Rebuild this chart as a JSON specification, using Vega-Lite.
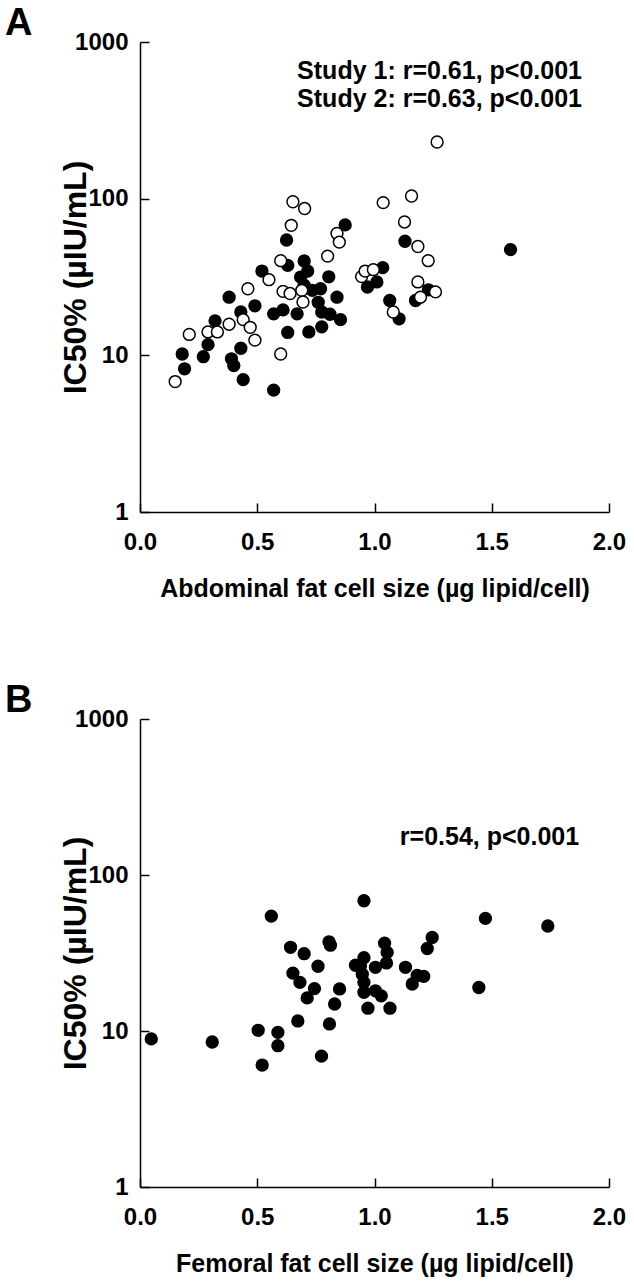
{
  "$schema": "https://vega.github.io/schema/vega-lite/v6.json",
  "padding": {"left": 5, "top": 5, "right": 5, "bottom": 5},
  "spacing": 81,
  "config": {
    "font": "Liberation Sans",
    "view": {"stroke": null},
    "axis": {
      "grid": false,
      "domainColor": "black",
      "domainWidth": 1.5,
      "tickColor": "black",
      "tickWidth": 1.5,
      "tickSize": -9,
      "labelPadding": 27,
      "labelFlush": false,
      "labelFont": "Liberation Sans",
      "labelFontSize": 24,
      "labelFontWeight": "bold",
      "labelColor": "black",
      "titleFont": "Liberation Sans",
      "titleFontSize": 25,
      "titleFontWeight": "bold",
      "titleColor": "black"
    },
    "title": {"font": "Liberation Sans", "fontSize": 38, "fontWeight": "bold", "color": "black", "anchor": "start", "frame": "group"}
  },
  "datasets": {
    "a": [
      {"x": 0.18, "y": 10.2, "study": "Study 1"},
      {"x": 0.19, "y": 8.2, "study": "Study 1"},
      {"x": 0.27, "y": 9.8, "study": "Study 1"},
      {"x": 0.29, "y": 11.7, "study": "Study 1"},
      {"x": 0.32, "y": 16.6, "study": "Study 1"},
      {"x": 0.38, "y": 23.5, "study": "Study 1"},
      {"x": 0.39, "y": 9.5, "study": "Study 1"},
      {"x": 0.40, "y": 8.6, "study": "Study 1"},
      {"x": 0.43, "y": 11.1, "study": "Study 1"},
      {"x": 0.44, "y": 7.0, "study": "Study 1"},
      {"x": 0.43, "y": 18.9, "study": "Study 1"},
      {"x": 0.49, "y": 20.7, "study": "Study 1"},
      {"x": 0.52, "y": 34.5, "study": "Study 1"},
      {"x": 0.57, "y": 6.0, "study": "Study 1"},
      {"x": 0.57, "y": 18.4, "study": "Study 1"},
      {"x": 0.61, "y": 19.5, "study": "Study 1"},
      {"x": 0.625, "y": 54.5, "study": "Study 1"},
      {"x": 0.63, "y": 37.5, "study": "Study 1"},
      {"x": 0.63, "y": 14.0, "study": "Study 1"},
      {"x": 0.67, "y": 18.4, "study": "Study 1"},
      {"x": 0.70, "y": 40, "study": "Study 1"},
      {"x": 0.685, "y": 31.6, "study": "Study 1"},
      {"x": 0.715, "y": 34.5, "study": "Study 1"},
      {"x": 0.70, "y": 28, "study": "Study 1"},
      {"x": 0.72, "y": 14.1, "study": "Study 1"},
      {"x": 0.735, "y": 26, "study": "Study 1"},
      {"x": 0.77, "y": 26.6, "study": "Study 1"},
      {"x": 0.76, "y": 21.8, "study": "Study 1"},
      {"x": 0.775, "y": 18.9, "study": "Study 1"},
      {"x": 0.775, "y": 15.2, "study": "Study 1"},
      {"x": 0.805, "y": 31.7, "study": "Study 1"},
      {"x": 0.81, "y": 18.3, "study": "Study 1"},
      {"x": 0.84, "y": 23.5, "study": "Study 1"},
      {"x": 0.855, "y": 16.9, "study": "Study 1"},
      {"x": 0.875, "y": 68, "study": "Study 1"},
      {"x": 0.97, "y": 27.3, "study": "Study 1"},
      {"x": 1.01, "y": 29.4, "study": "Study 1"},
      {"x": 1.035, "y": 36.3, "study": "Study 1"},
      {"x": 1.065, "y": 22.4, "study": "Study 1"},
      {"x": 1.105, "y": 17.1, "study": "Study 1"},
      {"x": 1.13, "y": 53.5, "study": "Study 1"},
      {"x": 1.175, "y": 22.4, "study": "Study 1"},
      {"x": 1.23, "y": 26.2, "study": "Study 1"},
      {"x": 1.58, "y": 47.3, "study": "Study 1"},
      {"x": 0.15, "y": 6.8, "study": "Study 2"},
      {"x": 0.21, "y": 13.6, "study": "Study 2"},
      {"x": 0.29, "y": 14.1, "study": "Study 2"},
      {"x": 0.33, "y": 14.1, "study": "Study 2"},
      {"x": 0.38, "y": 15.8, "study": "Study 2"},
      {"x": 0.44, "y": 16.9, "study": "Study 2"},
      {"x": 0.47, "y": 15.1, "study": "Study 2"},
      {"x": 0.49, "y": 12.5, "study": "Study 2"},
      {"x": 0.46, "y": 26.6, "study": "Study 2"},
      {"x": 0.55, "y": 30.4, "study": "Study 2"},
      {"x": 0.60, "y": 40.2, "study": "Study 2"},
      {"x": 0.60, "y": 10.2, "study": "Study 2"},
      {"x": 0.61, "y": 25.6, "study": "Study 2"},
      {"x": 0.64, "y": 24.8, "study": "Study 2"},
      {"x": 0.645, "y": 67.6, "study": "Study 2"},
      {"x": 0.652, "y": 95.6, "study": "Study 2"},
      {"x": 0.702, "y": 86.5, "study": "Study 2"},
      {"x": 0.69, "y": 26, "study": "Study 2"},
      {"x": 0.695, "y": 21.9, "study": "Study 2"},
      {"x": 0.80, "y": 43, "study": "Study 2"},
      {"x": 0.84, "y": 60, "study": "Study 2"},
      {"x": 0.85, "y": 52.8, "study": "Study 2"},
      {"x": 0.945, "y": 31.8, "study": "Study 2"},
      {"x": 0.96, "y": 34.5, "study": "Study 2"},
      {"x": 0.995, "y": 35.2, "study": "Study 2"},
      {"x": 1.037, "y": 94.3, "study": "Study 2"},
      {"x": 1.08, "y": 18.9, "study": "Study 2"},
      {"x": 1.128, "y": 71, "study": "Study 2"},
      {"x": 1.158, "y": 104, "study": "Study 2"},
      {"x": 1.185, "y": 49.5, "study": "Study 2"},
      {"x": 1.185, "y": 29.4, "study": "Study 2"},
      {"x": 1.196, "y": 23.5, "study": "Study 2"},
      {"x": 1.229, "y": 40.2, "study": "Study 2"},
      {"x": 1.26, "y": 25.4, "study": "Study 2"},
      {"x": 1.267, "y": 230, "study": "Study 2"}
    ],
    "b": [
      {"x": 0.048, "y": 8.9}, {"x": 0.308, "y": 8.5}, {"x": 0.504, "y": 10.1},
      {"x": 0.521, "y": 6.05}, {"x": 0.56, "y": 54.5}, {"x": 0.588, "y": 9.8},
      {"x": 0.588, "y": 8.05}, {"x": 0.642, "y": 34.4}, {"x": 0.70, "y": 31.3},
      {"x": 0.759, "y": 26.0}, {"x": 0.806, "y": 37.3}, {"x": 0.812, "y": 35.5},
      {"x": 0.652, "y": 23.5}, {"x": 0.682, "y": 20.5}, {"x": 0.744, "y": 18.7},
      {"x": 0.713, "y": 16.3}, {"x": 0.851, "y": 18.6}, {"x": 0.83, "y": 14.9},
      {"x": 0.673, "y": 11.6}, {"x": 0.808, "y": 11.1}, {"x": 0.774, "y": 6.9},
      {"x": 0.955, "y": 68.4}, {"x": 0.919, "y": 26.4}, {"x": 0.955, "y": 29.5},
      {"x": 0.948, "y": 23.1}, {"x": 0.955, "y": 17.7}, {"x": 0.972, "y": 14.0},
      {"x": 1.473, "y": 52.7}, {"x": 1.739, "y": 47.1}, {"x": 1.445, "y": 19.0},
      {"x": 1.246, "y": 39.8}, {"x": 1.225, "y": 33.8}, {"x": 1.043, "y": 36.6},
      {"x": 1.054, "y": 31.9}, {"x": 1.051, "y": 27.3}, {"x": 1.004, "y": 25.6},
      {"x": 1.132, "y": 25.6}, {"x": 0.94, "y": 26.2}, {"x": 0.955, "y": 20.5},
      {"x": 1.004, "y": 18.1}, {"x": 1.029, "y": 16.8}, {"x": 1.066, "y": 14.0},
      {"x": 1.161, "y": 20.0}, {"x": 1.21, "y": 22.4}, {"x": 1.182, "y": 22.7}
    ]
  },
  "vconcat": [
    {
      "width": 469,
      "height": 470,
      "title": {"text": "A", "dx": -135, "offset": -13},
      "layer": [
        {
          "data": {"name": "a"},
          "mark": {"type": "point", "shape": "circle", "filled": true, "stroke": "black", "strokeWidth": 1.5, "size": 140, "opacity": 1},
          "encoding": {
            "x": {"field": "x", "type": "quantitative", "scale": {"domain": [0, 2], "nice": false},
                  "axis": {"values": [0, 0.5, 1, 1.5, 2], "format": ".1f", "title": "Abdominal fat cell size (µg lipid/cell)", "titlePadding": 22}},
            "y": {"field": "y", "type": "quantitative", "scale": {"type": "log", "domain": [1, 1000], "nice": false},
                  "axis": {"values": [1, 10, 100, 1000], "format": "d", "labelPadding": 21, "title": "IC50% (µIU/mL)", "titleFontSize": 32, "titleX": -65, "titleBaseline": "middle"}},
            "fill": {"field": "study", "type": "nominal", "scale": {"domain": ["Study 1", "Study 2"], "range": ["black", "white"]}, "legend": null}
          }
        },
        {
          "data": {"values": [
            {"x": 0.67, "y": 649, "t": "Study 1: r=0.61, p<0.001"},
            {"x": 0.67, "y": 430, "t": "Study 2: r=0.63, p<0.001"}
          ]},
          "mark": {"type": "text", "align": "left", "baseline": "middle", "fontSize": 25, "fontWeight": "bold", "color": "black"},
          "encoding": {
            "x": {"field": "x", "type": "quantitative"},
            "y": {"field": "y", "type": "quantitative"},
            "text": {"field": "t"}
          }
        }
      ]
    },
    {
      "width": 469,
      "height": 468,
      "title": {"text": "B", "dx": -135, "offset": -13},
      "layer": [
        {
          "data": {"name": "b"},
          "mark": {"type": "point", "shape": "circle", "filled": true, "fill": "black", "stroke": "black", "strokeWidth": 1.5, "size": 140, "opacity": 1},
          "encoding": {
            "x": {"field": "x", "type": "quantitative", "scale": {"domain": [0, 2], "nice": false},
                  "axis": {"values": [0, 0.5, 1, 1.5, 2], "format": ".1f", "title": "Femoral fat cell size (µg lipid/cell)", "titlePadding": 22}},
            "y": {"field": "y", "type": "quantitative", "scale": {"type": "log", "domain": [1, 1000], "nice": false},
                  "axis": {"values": [1, 10, 100, 1000], "format": "d", "labelPadding": 21, "title": "IC50% (µIU/mL)", "titleFontSize": 32, "titleX": -65, "titleBaseline": "middle"}}
          }
        },
        {
          "data": {"values": [
            {"x": 1.108, "y": 176.5, "t": "r=0.54, p<0.001"}
          ]},
          "mark": {"type": "text", "align": "left", "baseline": "middle", "fontSize": 25, "fontWeight": "bold", "color": "black"},
          "encoding": {
            "x": {"field": "x", "type": "quantitative"},
            "y": {"field": "y", "type": "quantitative"},
            "text": {"field": "t"}
          }
        }
      ]
    }
  ]
}
